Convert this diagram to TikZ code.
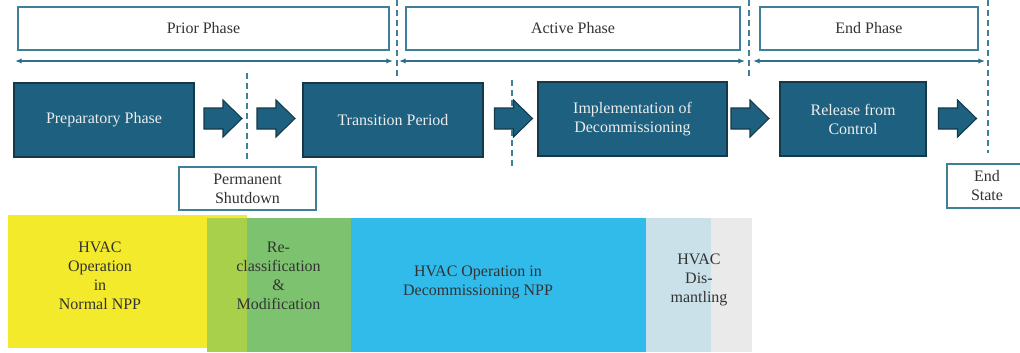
\documentclass[tikz,border=0pt]{standalone}
\usepackage{fontspec}
\setmainfont{Liberation Serif}
\usetikzlibrary{arrows.meta}
\definecolor{stage}{HTML}{1D6080}
\definecolor{stageedge}{HTML}{16394A}
\definecolor{frame}{HTML}{3F7F98}
\definecolor{spanline}{HTML}{2E6E8E}
\definecolor{ink}{HTML}{333333}
\definecolor{hvacyellow}{HTML}{F2EA2B}
\definecolor{hvacmix}{HTML}{A9D04A}
\definecolor{hvacgreen}{HTML}{7DC36F}
\definecolor{hvacblue}{HTML}{31BBEB}
\definecolor{hvacpale}{HTML}{CAE1E9}
\definecolor{hvacgrey}{HTML}{EAEAEA}
\tikzset{
  labelfont/.style={font=\fontsize{12}{14.25}\selectfont},
  phasebox/.style={draw=frame, line width=1pt, fill=white, inner sep=0pt,
    minimum height=32.25pt, text=ink, labelfont},
  stagebox/.style={draw=stageedge, line width=0.9pt, fill=stage, inner sep=0pt,
    minimum height=55.5pt, text=white!93!black, align=center, labelfont},
  arrowshape/.style={draw=stageedge, line width=0.8pt, fill=stage, line join=miter},
  markbox/.style={draw=frame, line width=1pt, fill=white, inner sep=0pt,
    text=ink, align=center, labelfont},
  divider/.style={draw=frame, line width=1.1pt, dash pattern=on 4.5pt off 3pt},
  span/.style={draw=spanline, line width=1.1pt,
    {Latex[length=5pt,width=4pt]}-{Latex[length=5pt,width=4pt]}},
  hvactext/.style={text=ink, align=center, inner sep=0pt, labelfont}
}
% block arrow centred on a named coordinate: #1 name, #2 x position
\newcommand\flowarrowat[2]{%
  \coordinate (#1) at (#2,118.5);
  \path[arrowshape] (#1) ++(-19,-10.5) -- ++(19,0) -- ++(0,-8) -- ++(19,18.5)
    -- ++(-19,18.5) -- ++(0,-8) -- ++(-19,0) -- cycle;}
\begin{document}
\begin{tikzpicture}[x=0.75pt,y=-0.75pt]
\useasboundingbox (0,0) rectangle (1020,353);
\clip (0,0) rectangle (1020,353);

% phase headers
\node (prior)  [phasebox, minimum width=278.25pt] at (203.5,28.5) {Prior Phase};
\node (active) [phasebox, minimum width=250.5pt]  at (573,28.5)   {Active Phase};
\node (endph)  [phasebox, minimum width=163.5pt]  at (869,28.5)   {End Phase};

% phase boundaries
\coordinate (d1a) at (397,0);   \coordinate (d1b) at (397,80);
\coordinate (d2a) at (749,0);   \coordinate (d2b) at (749,80);
\coordinate (d3a) at (988,0);   \coordinate (d3b) at (988,153);
\coordinate (d4a) at (247,73);  \coordinate (d4b) at (247,162);
\coordinate (d5a) at (512,80);  \coordinate (d5b) at (512,168);
\path[divider] (d1a) -- (d1b);
\path[divider] (d2a) -- (d2b);
\path[divider] (d3a) -- (d3b);
\path[divider] (d4a) -- (d4b);
\path[divider] (d5a) -- (d5b);

% phase spans
\coordinate (s1a) at (15,61);  \coordinate (s1b) at (393,61);
\coordinate (s2a) at (399,61); \coordinate (s2b) at (745,61);
\coordinate (s3a) at (753,61); \coordinate (s3b) at (985,61);
\path[span] (s1a) -- (s1b);
\path[span] (s2a) -- (s2b);
\path[span] (s3a) -- (s3b);

% stages
\node (prep)  [stagebox, minimum width=135pt]    at (104,120)   {Preparatory Phase};
\node (trans) [stagebox, minimum width=135pt]    at (393,120)   {Transition Period};
\node (impl)  [stagebox, minimum width=141.75pt] at (632.5,119) {Implementation of\\Decommissioning};
\node (rel)   [stagebox, minimum width=109.5pt]  at (853,119)   {Release from\\Control};

% flow arrows
\flowarrowat{a1}{223}
\flowarrowat{a2}{276}
\flowarrowat{a3}{513.5}
\flowarrowat{a4}{750}
\flowarrowat{a5}{957.5}

% milestones
\node (shut) [markbox, minimum width=102.75pt, minimum height=32.25pt] at (247.5,188.5) {Permanent\\Shutdown};
\node (endstate) [markbox, minimum width=67.5pt, minimum height=33pt] at (992,186) {};
\node (endtext) [hvactext] at (987,186) {End\\State};

% HVAC activity bands
\fill[hvacgrey]   (646,218) rectangle (752,352);
\fill[hvacpale]   (646,218) rectangle (711,352);
\fill[hvacblue]   (351,218) rectangle (646,352);
\fill[hvacgreen]  (247,218) rectangle (351,352);
\fill[hvacyellow] (8,215)   rectangle (247,348);
\fill[hvacmix]    (207,218) rectangle (247,352);

\node (normal) [hvactext] at (100,275.5) {HVAC\\Operation\\in\\Normal NPP};
\node (reclass) [hvactext] at (278.5,275.5) {Re-\\classification\\\&\\Modification};
\node (decom) [hvactext] at (478,282.5) {HVAC Operation in\\Decommissioning NPP};
\node (dismantle) [hvactext] at (699,279.5) {HVAC\\Dis-\\mantling};
\end{tikzpicture}
\end{document}
